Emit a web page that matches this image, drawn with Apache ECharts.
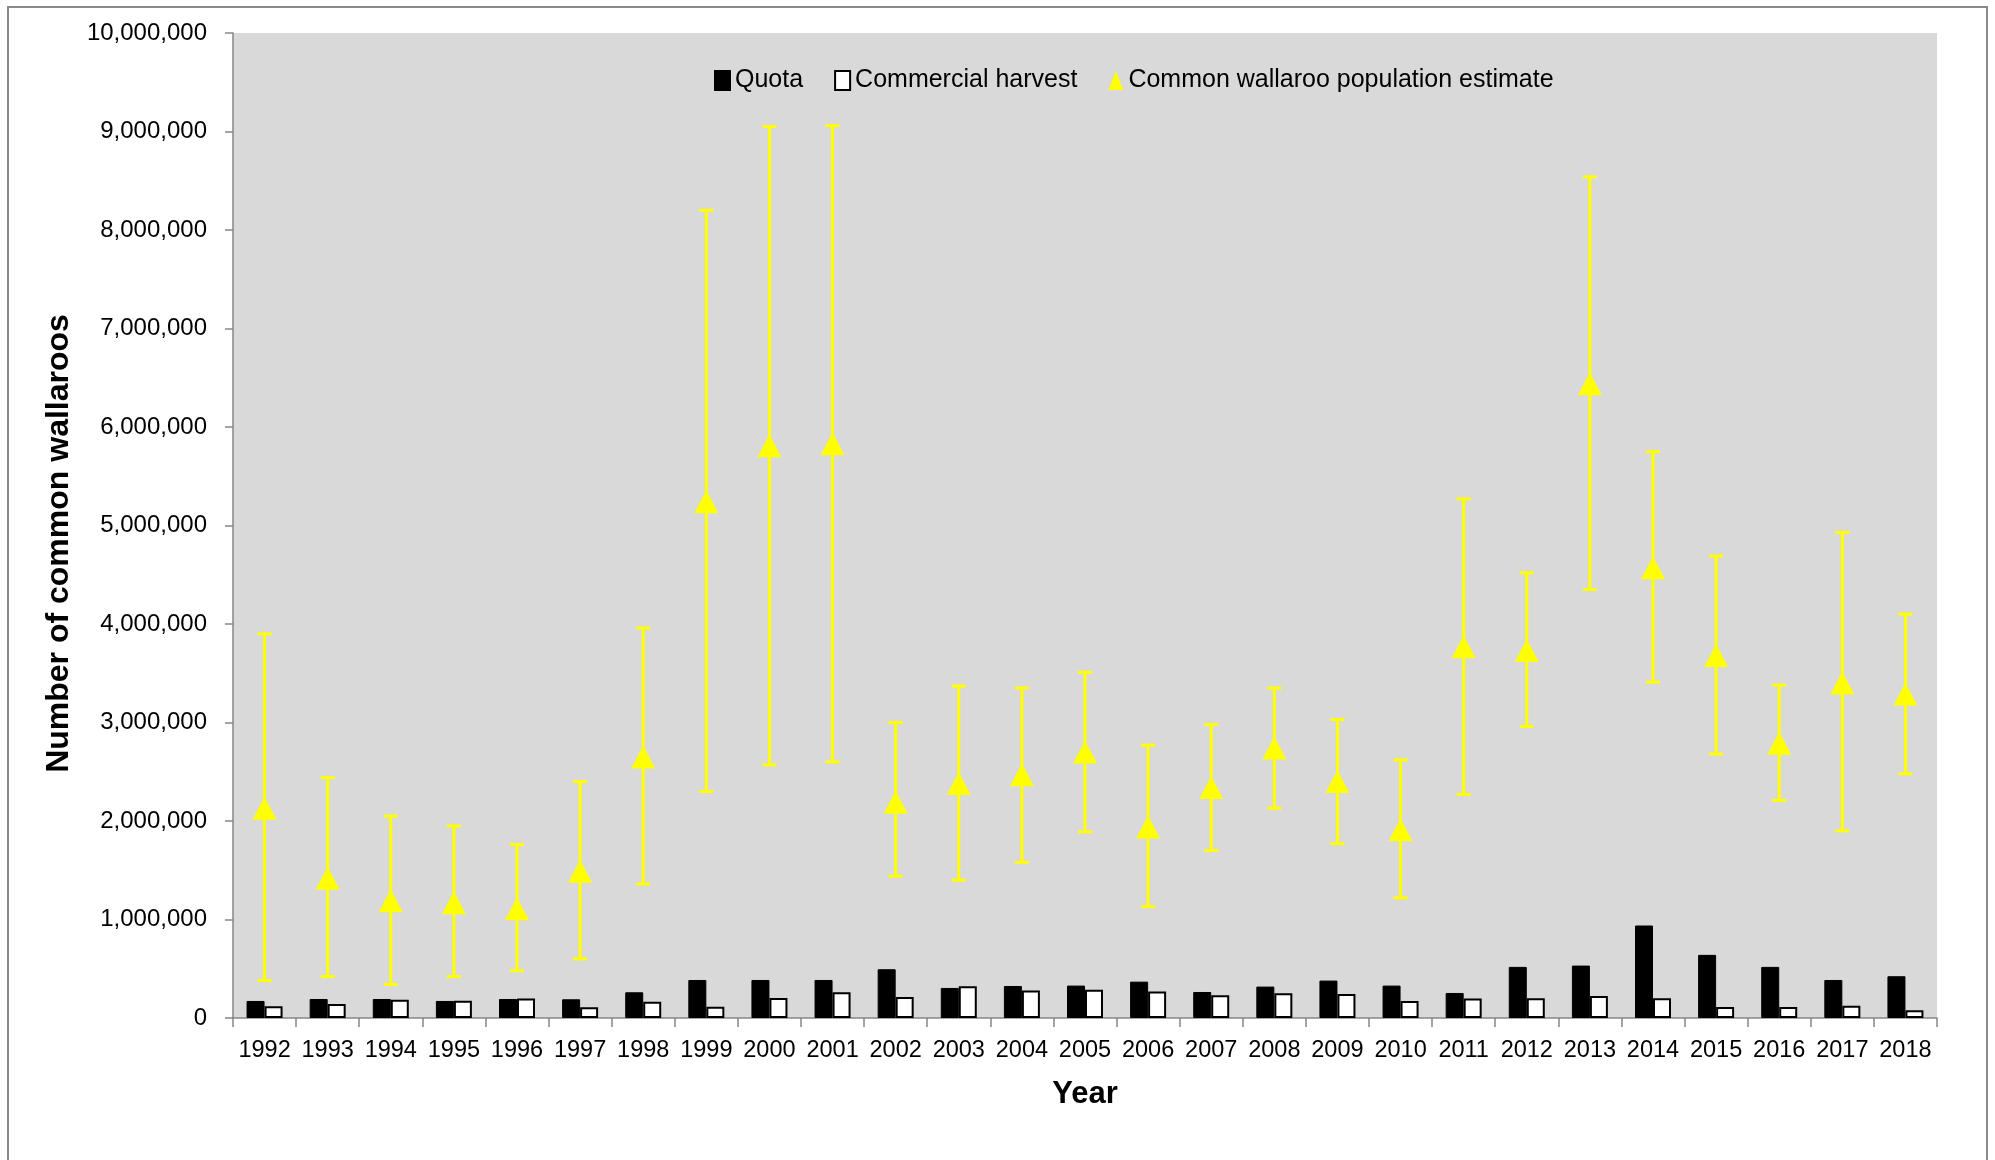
<!DOCTYPE html>
<html><head><meta charset="utf-8">
<script src="https://cdn.jsdelivr.net/npm/echarts@6/dist/echarts.min.js"></script>
<style>html,body{margin:0;padding:0;background:#fff}#c{width:1995px;height:1160px}</style>
</head><body><div id="c"></div>
<script>
const years = ['1992','1993','1994','1995','1996','1997','1998','1999','2000','2001','2002','2003','2004','2005','2006','2007','2008','2009','2010','2011','2012','2013','2014','2015','2016','2017','2018'];
const quota = [173000,193000,193000,173000,193000,190000,261000,386000,386000,386000,495000,305000,325000,329000,369000,264000,319000,380000,329000,254000,519000,532000,939000,641000,519000,386000,424000];
const harvest = [119000,142000,186000,176000,197000,108000,166000,115000,203000,261000,214000,322000,278000,288000,268000,231000,251000,244000,173000,197000,200000,224000,200000,112000,112000,125000,78000];
const estimate = [2130000,1420000,1190000,1170000,1110000,1490000,2650000,5240000,5810000,5830000,2190000,2380000,2470000,2700000,1940000,2340000,2740000,2400000,1910000,3770000,3730000,6440000,4570000,3680000,2790000,3400000,3290000];
const upper = [3900000,2440000,2050000,1950000,1760000,2400000,3960000,8200000,9050000,9060000,3000000,3370000,3350000,3510000,2770000,2980000,3350000,3030000,2620000,5270000,4520000,8540000,5750000,4690000,3380000,4930000,4100000];
const lower = [380000,420000,340000,420000,480000,600000,1360000,2300000,2570000,2600000,1440000,1400000,1580000,1890000,1130000,1700000,2130000,1770000,1220000,2270000,2960000,4350000,3410000,2680000,2210000,1900000,2480000];
const yTicks = {min: 0, max: 10000000, interval: 1000000};

const errData = years.map((y, i) => [i, lower[i], upper[i]]);
const FONT = '"Liberation Sans", Arial, sans-serif';
const AXIS_GRAY = '#868686';

function renderErr(params, api) {
  const i = api.value(0);
  const lo = api.coord([i, api.value(1)]);
  const hi = api.coord([i, api.value(2)]);
  const cw = 7;
  const style = {stroke: '#FFFF00', lineWidth: 3};
  return {type: 'group', children: [
    {type: 'line', shape: {x1: lo[0], y1: lo[1], x2: hi[0], y2: hi[1]}, style: style},
    {type: 'line', shape: {x1: lo[0] - cw, y1: lo[1], x2: lo[0] + cw, y2: lo[1]}, style: style},
    {type: 'line', shape: {x1: hi[0] - cw, y1: hi[1], x2: hi[0] + cw, y2: hi[1]}, style: style}
  ]};
}

const chart = echarts.init(document.getElementById('c'), null, {renderer: 'canvas'});
chart.setOption({
  animation: false,
  backgroundColor: '#fff',
  textStyle: {fontFamily: FONT},
  graphic: [{
    type: 'rect', silent: true, z: -10,
    shape: {x: 8, y: 7, width: 1979, height: 1170},
    style: {fill: 'transparent', stroke: '#8a8a8a', lineWidth: 2}
  }],
  grid: {left: 233, right: 58, top: 33, bottom: 142, show: true, backgroundColor: '#D9D9D9', borderWidth: 0},
  legend: {
    left: 709, top: 63, itemWidth: 15, itemHeight: 19, itemGap: 31,
    textStyle: {fontSize: 25, color: '#000', fontFamily: FONT},
    data: [
      {name: 'Quota', icon: 'rect'},
      {name: 'Commercial harvest', icon: 'rect'},
      {name: 'Common wallaroo population estimate', icon: 'triangle'}
    ]
  },
  xAxis: {
    type: 'category', data: years, boundaryGap: true,
    axisLine: {show: true, lineStyle: {color: AXIS_GRAY, width: 1.5}},
    axisTick: {show: true, length: 9, interval: 0, alignWithLabel: false, lineStyle: {color: AXIS_GRAY, width: 1.5}},
    axisLabel: {interval: 0, fontSize: 23.5, color: '#000', margin: 21, fontFamily: FONT},
    splitLine: {show: false},
    name: 'Year', nameLocation: 'middle', nameGap: 61,
    nameTextStyle: {fontSize: 31, fontWeight: 'bold', color: '#000', fontFamily: FONT}
  },
  yAxis: {
    type: 'value', min: yTicks.min, max: yTicks.max, interval: yTicks.interval,
    axisLine: {show: true, lineStyle: {color: AXIS_GRAY, width: 1.5}},
    axisTick: {show: true, length: 8, lineStyle: {color: AXIS_GRAY, width: 1.5}},
    axisLabel: {fontSize: 24, color: '#000', margin: 26, fontFamily: FONT,
      formatter: v => v.toLocaleString('en-US')},
    splitLine: {show: false},
    name: 'Number of common wallaroos', nameLocation: 'middle', nameGap: 158, nameRotate: 90,
    nameTextStyle: {fontSize: 32, fontWeight: 'bold', color: '#000', fontFamily: FONT, padding: [0, 36, 0, 0]}
  },
  series: [
    {name: 'Quota', type: 'bar', data: quota, barWidth: 18, barGap: '0%',
      itemStyle: {color: '#000', borderColor: '#000', borderWidth: 1}},
    {name: 'Commercial harvest', type: 'bar', data: harvest, barWidth: 18, barGap: '0%',
      itemStyle: {color: '#fff', borderColor: '#000', borderWidth: 2}},
    {name: 'error', type: 'custom', renderItem: renderErr, data: errData, z: 3,
      encode: {x: 0, y: [1, 2]}, silent: true},
    {name: 'Common wallaroo population estimate', type: 'scatter', data: estimate,
      symbol: 'triangle', symbolSize: [24, 23], z: 4,
      itemStyle: {color: '#FFFF00', opacity: 1}}
  ]
});
</script>
</body></html>
